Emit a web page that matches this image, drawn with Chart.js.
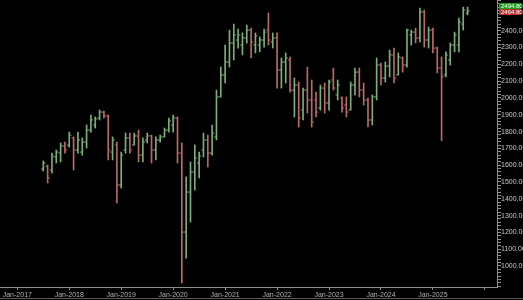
<!DOCTYPE html>
<html>
<head>
<meta charset="utf-8">
<script src="https://cdn.jsdelivr.net/npm/chart.js@4.4.1/dist/chart.umd.min.js"></script>
<style>
html,body{margin:0;padding:0;background:#000;}
#wrap{width:523px;height:300px;position:relative;background:#000;}
</style>
</head>
<body>
<div id="wrap"><canvas id="c" width="523" height="300"></canvas></div>
<script>
// months since Jan-2017 (Jul-2017 .. Sep-2025)
const months = [];
for (let m = 6; m <= 104; m++) months.push(m);

const opens = [1577,1595,1571,1649,1672,1714,1720,1762,1690,1678,1738,1809,1839,1881,1916,1893,1678,1720,1482,1690,1762,1720,1774,1660,1750,1774,1690,1750,1768,1809,1839,1881,1672,1202,1440,1559,1613,1690,1750,1672,1768,2006,2137,2214,2327,2345,2315,2357,2404,2315,2315,2345,2404,2333,2357,2166,2214,2226,2047,2077,1928,2047,1988,1988,1940,2059,1970,2107,2018,2000,1958,1928,2077,2154,2047,1988,1869,2006,2196,2119,2190,2256,2137,2238,2196,2375,2392,2357,2512,2345,2404,2297,2178,2137,2226,2315,2315,2440,2506];
const highs = [1625,1601,1672,1690,1732,1738,1797,1768,1797,1762,1839,1898,1887,1928,1922,1898,1768,1738,1678,1791,1791,1791,1809,1762,1791,1779,1768,1779,1821,1881,1898,1887,1732,1530,1619,1720,1678,1791,1779,1839,2047,2184,2315,2404,2440,2410,2387,2434,2416,2387,2363,2410,2506,2387,2387,2238,2268,2244,2119,2095,2059,2184,2107,2035,2077,2089,2107,2178,2107,2006,2006,2095,2178,2178,2089,2000,2018,2238,2208,2214,2285,2297,2268,2244,2410,2404,2416,2535,2523,2422,2416,2303,2244,2274,2327,2392,2476,2541,2541];
const lows = [1565,1494,1553,1613,1619,1672,1708,1571,1672,1660,1702,1797,1821,1869,1881,1631,1631,1375,1464,1672,1672,1720,1619,1619,1732,1613,1631,1738,1768,1797,1797,1613,899,1047,1262,1452,1524,1649,1589,1660,1750,2006,2089,2184,2226,2297,2256,2327,2238,2268,2274,2303,2315,2297,2059,2059,2089,2035,1887,1827,1869,1910,1827,1887,1928,1910,1928,2047,1988,1916,1887,1928,2018,2006,1958,1827,1839,1988,2077,2095,2125,2089,2137,2154,2184,2315,2327,2333,2303,2297,2268,2149,1745,2125,2196,2274,2274,2404,2494];
const closes = [1613,1524,1654,1678,1714,1690,1779,1690,1750,1738,1809,1869,1875,1916,1893,1690,1750,1482,1660,1762,1690,1774,1660,1738,1774,1690,1750,1768,1809,1863,1881,1672,1202,1440,1559,1643,1654,1750,1672,1791,2006,2137,2214,2327,2375,2375,2357,2404,2333,2369,2345,2392,2345,2357,2166,2214,2238,2047,2077,1881,2047,1988,1857,1916,2059,1970,2095,2059,2077,1940,1916,2077,2154,2047,1988,1869,2006,2196,2119,2190,2256,2119,2244,2196,2404,2392,2357,2512,2345,2404,2297,2178,2125,2256,2315,2375,2452,2523,2518];

const yearTicks = [0,12,24,36,48,60,72,84,96,108];
const yearLabels = ['Jan-2017','Jan-2018','Jan-2019','Jan-2020','Jan-2021','Jan-2022','Jan-2023','Jan-2024','Jan-2025',''];
const priceLabelMin = 1000, priceLabelMax = 2400;
const markerValues = [2494.80, 2464.80];

const UP = '#7aae7a', DOWN = '#bc6868';
const colors = closes.map((c,i)=> c >= opens[i] ? UP : DOWN);
const FX = {family:'"Liberation Sans", Arial, sans-serif', size:7};
const FY = {family:'"Liberation Sans", Arial, sans-serif', size:7, lineHeight:0.01};

const markerPlugin = {
  id:'markers',
  afterDraw(chart){
    const ctx = chart.ctx, a = chart.chartArea;
    const boxes = [{v:markerValues[0], bg:'#1aa01a', y:3}, {v:markerValues[1], bg:'#b83030', y:9}];
    ctx.save();
    ctx.font = '6px "Liberation Sans", Arial, sans-serif';
    ctx.textBaseline = 'middle';
    boxes.forEach(b=>{
      ctx.fillStyle = b.bg;
      ctx.fillRect(a.right+2, b.y, 22, 6);
      ctx.fillStyle = '#ffffff';
      ctx.fillText(b.v.toFixed(2), a.right+4, b.y+3.2);
    });
    ctx.strokeStyle = '#555';
    ctx.lineWidth = 1;
    ctx.beginPath(); ctx.moveTo(0, 298.5); ctx.lineTo(523, 298.5); ctx.stroke();
    ctx.restore();
  }
};

new Chart(document.getElementById('c'), {
  type:'bar',
  data:{
    datasets:[
      {
        type:'bar',
        data: months.map((m,i)=>({x:m, y:[lows[i], highs[i]]})),
        backgroundColor: colors,
        borderWidth:0,
        barThickness:1,
        grouped:false,
        order:2
      },
      {
        type:'line',
        showLine:false,
        borderWidth:0,
        data: months.map((m,i)=>({x:m-0.24, y:opens[i]})),
        pointStyle:'line',
        pointRadius:1.1,
        pointBorderWidth:1,
        pointBorderColor: colors,
        pointBackgroundColor: colors,
        order:1
      },
      {
        type:'line',
        showLine:false,
        borderWidth:0,
        data: months.map((m,i)=>({x:m+0.24, y:closes[i]})),
        pointStyle:'line',
        pointRadius:1.1,
        pointBorderWidth:1,
        pointBorderColor: colors,
        pointBackgroundColor: colors,
        order:1
      }
    ]
  },
  options:{
    responsive:false,
    animation:false,
    devicePixelRatio:1,
    layout:{autoPadding:false, padding:{left:0,right:0,top:0,bottom:0}},
    plugins:{legend:{display:false}, tooltip:{enabled:false}},
    scales:{
      x:{
        type:'linear',
        offset:false,
        min:-4, max:110.8,
        afterBuildTicks(s){ s.ticks = yearTicks.map(v=>({value:v})); },
        afterFit(s){ s.paddingLeft = 0; s.paddingRight = 0; s.height = 13; },
        ticks:{
          autoSkip:false, maxRotation:0, padding:1,
          color:'#b0b0b0', font:FX,
          callback(v){ const i = yearTicks.indexOf(v); return i>=0 ? yearLabels[i] : ''; }
        },
        grid:{offset:false, drawOnChartArea:false, drawTicks:true, tickLength:3, color:'#909090'},
        border:{display:true, color:'#909090', width:1}
      },
      y:{
        position:'right',
        min:875, max:2583,
        afterBuildTicks(s){ const t=[]; for(let v=880; v<=2580; v+=20) t.push({value:v}); s.ticks = t; },
        afterFit(s){ s.width = 26; s.paddingTop = 0; s.paddingBottom = 0; },
        ticks:{
          autoSkip:false, padding:0,
          color:'#c8c8c8', font:FY,
          callback(v){ return (v % 100 === 0 && v >= priceLabelMin && v <= priceLabelMax) ? v.toFixed(2) : ''; }
        },
        grid:{drawOnChartArea:false, drawTicks:true, tickLength:4, color:'#909090'},
        border:{display:true, color:'#909090', width:1}
      }
    }
  },
  plugins:[markerPlugin]
});
</script>
</body>
</html>
